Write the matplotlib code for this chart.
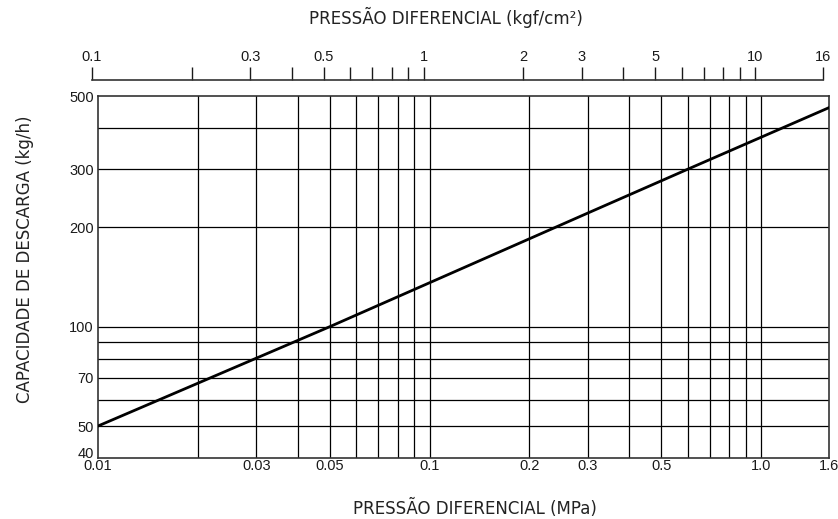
import matplotlib
matplotlib.use('Agg')
import matplotlib.pyplot as plt
from matplotlib.ticker import FixedLocator, FixedFormatter, NullLocator
from matplotlib.transforms import ScaledTranslation

# curve (MPa -> kg/h)
pressure_mpa = [0.01, 0.05, 0.3, 0.6, 1.6]
capacity = [50, 100, 221, 300, 461]

# bottom axis
x_labels = ['0.01', '0.03', '0.05', '0.1', '0.2', '0.3', '0.5', '1.0', '1.6']
x_label_pos = [0.01, 0.03, 0.05, 0.1, 0.2, 0.3, 0.5, 1.0, 1.6]
x_grid = [0.02, 0.03, 0.04, 0.05, 0.06, 0.07, 0.08, 0.09, 0.1,
          0.2, 0.3, 0.4, 0.5, 0.6, 0.7, 0.8, 0.9, 1.0]

# left axis
y_labels = ['40', '50', '70', '100', '200', '300', '500']
y_label_pos = [40, 50, 70, 100, 200, 300, 500]
y_grid = [50, 60, 70, 80, 90, 100, 200, 300, 400]

# top axis (kgf/cm2)
top_ticks = [0.1, 0.2, 0.3, 0.4, 0.5, 0.6, 0.7, 0.8, 0.9, 1,
             2, 3, 4, 5, 6, 7, 8, 9, 10, 16]
top_labels = ['0.1', '', '0.3', '', '0.5', '', '', '', '', '1',
              '2', '3', '', '5', '', '', '', '', '10', '16']

fig = plt.figure(figsize=(8.38, 5.19), dpi=100)
ax = fig.add_axes([98/838, 61/519, 731/838, 362/519])

ax.set_xscale('log')
ax.set_yscale('log')
ax.set_xlim(0.01, 1.6)
ax.set_ylim(40, 500)

for xv in x_grid:
    ax.axvline(xv, color='black', lw=0.9, zorder=1)
for yv in y_grid:
    ax.axhline(yv, color='black', lw=0.9, zorder=1)

ax.plot(pressure_mpa, capacity, color='black', lw=2, zorder=3)

ax.xaxis.set_major_locator(FixedLocator(x_label_pos))
ax.xaxis.set_major_formatter(FixedFormatter(x_labels))
ax.xaxis.set_minor_locator(NullLocator())
ax.yaxis.set_major_locator(FixedLocator(y_label_pos))
ax.yaxis.set_major_formatter(FixedFormatter(y_labels))
ax.yaxis.set_minor_locator(NullLocator())
ax.tick_params(length=0, labelsize=10.5, colors='#1a1a1a')
ax.tick_params(axis='x', pad=1)
ax.tick_params(axis='y', pad=3)
for lab in ax.get_xticklabels() + ax.get_yticklabels():
    lab.set_fontfamily('Liberation Sans')
# lift the "40" a little so it clears "0.01"
ylabs = ax.get_yticklabels()
ylabs[0].set_transform(ylabs[0].get_transform() + ScaledTranslation(0, 5/100, fig.dpi_scale_trans))
for s in ax.spines.values():
    s.set_color('#333333')
    s.set_linewidth(1.2)

ax.set_xlabel('PRESSÃO DIFERENCIAL (MPa)', fontsize=12, color='#222222')
ax.xaxis.set_label_coords(0.516, -0.113)
ax.set_ylabel('CAPACIDADE DE DESCARGA (kg/h)', fontsize=12, color='#222222')
ax.yaxis.set_label_coords(-0.088, 0.55)

# separate top scale
ax2 = fig.add_axes([92/838, (519-80-5)/519, 731/838, 5/519])
ax2.patch.set_visible(False)
ax2.set_xscale('log')
ax2.set_xlim(0.1, 16)
for k in ['left', 'right', 'bottom']:
    ax2.spines[k].set_visible(False)
ax2.spines['top'].set_color('#333333')
ax2.spines['top'].set_linewidth(1.2)
ax2.set_yticks([])
ax2.xaxis.tick_top()
ax2.xaxis.set_major_locator(FixedLocator(top_ticks))
ax2.xaxis.set_major_formatter(FixedFormatter(top_labels))
ax2.xaxis.set_minor_locator(NullLocator())
ax2.tick_params(axis='x', direction='out', length=9.5, width=1, colors='#1a1a1a',
                labelsize=10.5, pad=2)
for lab in ax2.get_xticklabels():
    lab.set_fontfamily('Liberation Sans')
ax2.set_title('PRESSÃO DIFERENCIAL (kgf/cm²)', fontsize=12, color='#222222', pad=40, x=0.484)

fig.savefig('out.png', dpi=100)
